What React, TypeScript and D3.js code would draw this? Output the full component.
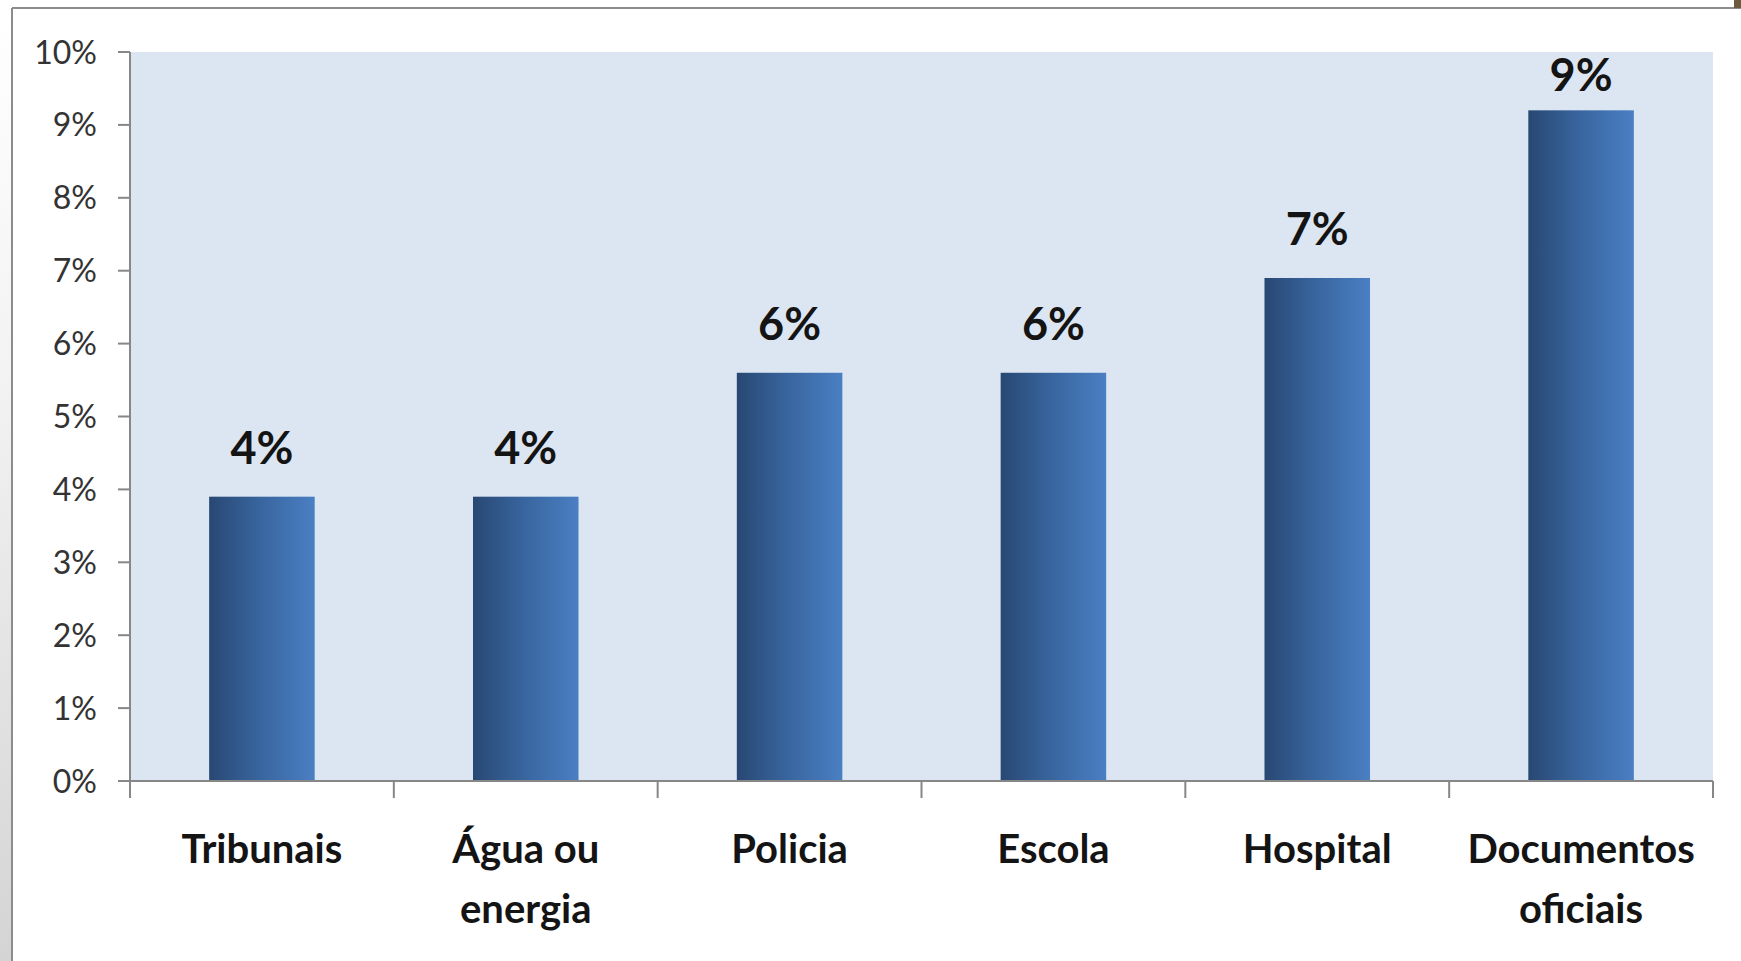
import React from "react";
import * as d3 from "d3";

const categories: string[][] = [
  ["Tribunais"],
  ["Água ou", "energia"],
  ["Policia"],
  ["Escola"],
  ["Hospital"],
  ["Documentos", "oficiais"],
];
const values: number[] = [0.039, 0.039, 0.056, 0.056, 0.069, 0.092];
const valueLabels: string[] = ["4%", "4%", "6%", "6%", "7%", "9%"];
const yTicks: number[] = [0, 0.01, 0.02, 0.03, 0.04, 0.05, 0.06, 0.07, 0.08, 0.09, 0.1];
const yTickLabels: string[] = ["0%", "1%", "2%", "3%", "4%", "5%", "6%", "7%", "8%", "9%", "10%"];

const W = 1741;
const H = 961;
const plot = { left: 130, right: 1713, top: 52, bottom: 781 };
const FONT = "Lato, 'Open Sans', 'DejaVu Sans', sans-serif";

export default function App() {
  const keys = categories.map((c) => c.join(" "));
  const x = d3.scaleBand<string>().domain(keys).range([plot.left, plot.right]).padding(0);
  const y = d3.scaleLinear().domain([0, 0.1]).range([plot.bottom, plot.top]);
  const barW = x.bandwidth() * 0.4;
  const boundaries = [...keys.map((k) => x(k) as number), plot.right];

  return (
    <svg
      width={W}
      height={H}
      viewBox={`0 0 ${W} ${H}`}
      style={{ position: "absolute", left: 0, top: 0, display: "block", background: "#ffffff" }}
    >
      <defs>
        <linearGradient id="barGrad" x1="0" x2="1" y1="0" y2="0">
          <stop offset="0" stopColor="#284873" />
          <stop offset="0.5" stopColor="#3966a0" />
          <stop offset="1" stopColor="#4a7fc3" />
        </linearGradient>
        <linearGradient id="sideShade" x1="0" x2="0" y1="0" y2="1">
          <stop offset="0" stopColor="#ffffff" />
          <stop offset="0.4" stopColor="#f2f2f2" />
          <stop offset="1" stopColor="#d4d4d4" />
        </linearGradient>
      </defs>
      <rect x={0} y={0} width={W} height={H} fill="#ffffff" />
      <rect x={0} y={10} width={11} height={H - 10} fill="url(#sideShade)" />
      {/* frame */}
      <line x1={12} y1={8} x2={W} y2={8} stroke="#8c8c8c" strokeWidth={2} />
      <line x1={12} y1={8} x2={12} y2={H} stroke="#8c8c8c" strokeWidth={2} />
      <rect x={1734} y={0} width={7} height={8} fill="#6b5a3e" />

      {/* plot area */}
      <rect
        x={plot.left}
        y={plot.top}
        width={plot.right - plot.left}
        height={plot.bottom - plot.top}
        fill="#dce6f2"
      />

      {/* bars */}
      {keys.map((k, i) => {
        const cx = (x(k) as number) + x.bandwidth() / 2;
        return (
          <rect
            key={k}
            x={cx - barW / 2}
            y={y(values[i])}
            width={barW}
            height={y(0) - y(values[i])}
            fill="url(#barGrad)"
          />
        );
      })}

      {/* value labels */}
      {keys.map((k, i) => {
        const cx = (x(k) as number) + x.bandwidth() / 2;
        const by = Math.max(y(values[i]) - 33, plot.top + 39);
        return (
          <text
            key={"l" + k}
            x={cx}
            y={by}
            textAnchor="middle"
            fontFamily={FONT}
            fontWeight={700}
            fontSize={45}
            fill="#141414"
          >
            {valueLabels[i]}
          </text>
        );
      })}

      {/* y axis */}
      <line x1={plot.left} x2={plot.left} y1={plot.top} y2={plot.bottom} stroke="#878787" strokeWidth={2} />
      {yTicks.map((t, i) => (
        <g key={"yt" + i}>
          <line x1={plot.left - 12} x2={plot.left} y1={y(t)} y2={y(t)} stroke="#878787" strokeWidth={2} />
          <text
            x={97}
            y={y(t)}
            dy="0.36em"
            textAnchor="end"
            fontFamily={FONT}
            fontSize={32}
            fill="#333333"
          >
            {yTickLabels[i]}
          </text>
        </g>
      ))}

      {/* x axis */}
      <line x1={plot.left} x2={plot.right} y1={plot.bottom} y2={plot.bottom} stroke="#878787" strokeWidth={2} />
      {boundaries.map((bx, i) => (
        <line key={"xt" + i} x1={bx} x2={bx} y1={plot.bottom} y2={plot.bottom + 17} stroke="#878787" strokeWidth={2} />
      ))}
      {keys.map((k, i) => {
        const cx = (x(k) as number) + x.bandwidth() / 2;
        return (
          <text
            key={"xl" + k}
            x={cx}
            y={863}
            textAnchor="middle"
            fontFamily={FONT}
            fontWeight={700}
            fontSize={40}
            fill="#141414"
          >
            {categories[i].map((line, j) => (
              <tspan key={j} x={cx} dy={j === 0 ? 0 : 60}>
                {line}
              </tspan>
            ))}
          </text>
        );
      })}
    </svg>
  );
}
